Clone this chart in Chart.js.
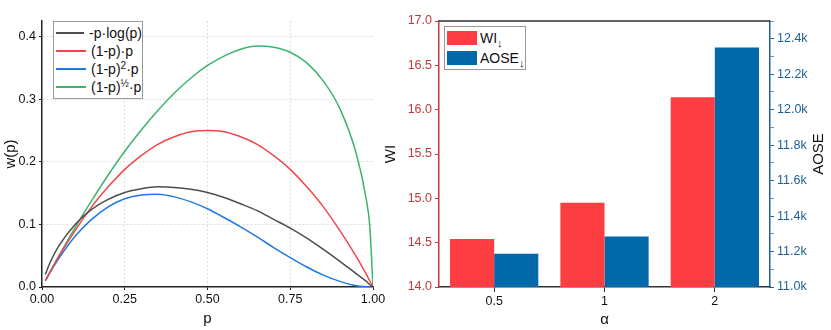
<!DOCTYPE html>
<html>
<head>
<meta charset="utf-8">
<script src="https://cdn.jsdelivr.net/npm/chart.js@4/dist/chart.umd.min.js"></script>
<style>
  body { margin: 0; background: #fff; font-family: "Liberation Sans", Arial, sans-serif; }
  #wrap { position: relative; width: 831px; height: 330px; }
  .box { position: absolute; top: 0; height: 330px; }
  .legend { position: absolute; background: #fff; border: 1px solid #999; font-size: 14px; color: #111; }
  .legend .row { display: flex; align-items: center; height: 18px; white-space: nowrap; }
  .legend sup { font-size: 10px; vertical-align: 5px; line-height: 0; }
  .legend sub { font-size: 11px; vertical-align: -4px; line-height: 0; }
</style>
</head>
<body>
<div id="wrap">
  <div class="box" style="left:0;width:400px"><canvas id="left-chart" width="400" height="330"></canvas></div>
  <div class="box" style="left:380px;width:451px"><canvas id="right-chart" width="451" height="330"></canvas></div>
  <div id="left-legend" class="legend" style="left:53px;top:21px;width:88px;padding:2px 0"></div>
  <div id="right-legend" class="legend" style="left:444px;top:26px;width:80px;padding:1px 0"></div>
</div>
<script>
// left chart: weight functions over p
const pValues = [0.01, 0.025, 0.05, 0.10, 0.15, 0.20, 0.25, 0.30, 0.35, 0.40, 0.45, 0.50, 0.55,
                 0.60, 0.65, 0.70, 0.75, 0.80, 0.85, 0.90, 0.95, 0.98, 0.99, 1.00];
const entropyW = [0.020, 0.040, 0.065, 0.100, 0.124, 0.140, 0.151, 0.157, 0.160, 0.159, 0.156, 0.151, 0.143,
                  0.133, 0.122, 0.108, 0.094, 0.078, 0.060, 0.041, 0.021, 0.009, 0.004, 0];
const linearW = [0.010, 0.024, 0.048, 0.090, 0.128, 0.160, 0.188, 0.210, 0.228, 0.240, 0.248, 0.250, 0.248,
                 0.240, 0.228, 0.210, 0.188, 0.160, 0.128, 0.090, 0.048, 0.020, 0.010, 0];
const squareW = [0.010, 0.024, 0.045, 0.081, 0.108, 0.128, 0.141, 0.147, 0.148, 0.144, 0.136, 0.125, 0.111,
                 0.096, 0.080, 0.063, 0.047, 0.032, 0.019, 0.009, 0.002, 0.0004, 0.0001, 0];
const sqrtW = [0.010, 0.025, 0.049, 0.095, 0.138, 0.179, 0.217, 0.251, 0.282, 0.310, 0.334, 0.354, 0.369,
               0.380, 0.385, 0.383, 0.375, 0.358, 0.329, 0.285, 0.212, 0.139, 0.099, 0];
const xTicks = [0, 0.25, 0.5, 0.75, 1.0];
const yTicks = [0, 0.1, 0.2, 0.3, 0.4];

// right chart: metrics per alpha
const alphaLabels = ['0.5', '1', '2'];
const wiValues = [14.54, 14.95, 16.14];
const aoseValues = [11188, 11285, 12351];

const fontFamily = "'Liberation Sans', Arial, sans-serif";
const textFont = { family: fontFamily, size: 12.5 };
const titleFont = { family: fontFamily, size: 15 };
const gridGrey = '#dddddd';

function pts(ys) {
    return pValues.map((p, i) => ({ x: p, y: ys[i] }));
}

const lineSeries = [
    { label: '-p·log(p)', html: '-p·log(p)', data: entropyW, color: '#4d4d4d' },
    { label: '(1-p)·p', html: '(1-p)·p', data: linearW, color: '#f0484a' },
    { label: '(1-p)^2·p', html: '(1-p)<sup>2</sup>·p', data: squareW, color: '#1f78e6' },
    { label: '(1-p)^½·p', html: '(1-p)<sup>½</sup>·p', data: sqrtW, color: '#3cb46e' }
];

new Chart(document.getElementById('left-chart').getContext('2d'), {
    type: 'line',
    data: {
        datasets: lineSeries.map(s => ({
            label: s.label,
            data: pts(s.data),
            borderColor: s.color,
            borderWidth: 1.5,
            pointRadius: 0,
            cubicInterpolationMode: 'monotone',
            fill: false
        }))
    },
    options: {
        responsive: false,
        animation: false,
        layout: { padding: { top: 21, right: 27, left: 0, bottom: 0 } },
        plugins: { legend: { display: false }, tooltip: { enabled: false } },
        scales: {
            x: {
                type: 'linear',
                min: 0, max: 1,
                afterBuildTicks: scale => { scale.ticks = xTicks.map(v => ({ value: v })); },
                afterFit: scale => { scale.height = 43; },
                ticks: { color: '#111', font: textFont, padding: 2, callback: v => v.toFixed(2) },
                grid: {
                    color: ctx => (ctx.tick && (ctx.tick.value === 0 || ctx.tick.value === 1)) ? 'rgba(0,0,0,0)' : gridGrey,
                    drawTicks: true, tickLength: 3, tickColor: '#222'
                },
                border: { color: '#222', width: 1.5, dash: [2, 2] },
                title: { display: true, text: 'p', color: '#111', font: titleFont, padding: 2 }
            },
            y: {
                min: 0, max: 0.425,
                afterBuildTicks: scale => { scale.ticks = yTicks.map(v => ({ value: v })); },
                afterFit: scale => { scale.width = 42; },
                ticks: { color: '#111', font: textFont, padding: 3, callback: v => v.toFixed(1) },
                grid: {
                    color: ctx => (ctx.tick && ctx.tick.value === 0) ? 'rgba(0,0,0,0)' : gridGrey,
                    drawTicks: true, tickLength: 3, tickColor: '#222'
                },
                border: { color: '#222', width: 1.5, dash: [2, 2] },
                title: { display: true, text: 'w(p)', color: '#111', font: titleFont, padding: 2 }
            }
        }
    }
});

const wiRed = '#fc3e42';
const aoseBlue = '#0168a9';
const axisRed = '#c23a3d';
const axisBlue = '#1c5f94';

// top frame line + right axis title read bottom-to-top like the left one
const frameAndTitle = {
    id: 'frameAndTitle',
    afterDraw(chart) {
        const { ctx, chartArea } = chart;
        ctx.save();
        ctx.strokeStyle = '#333';
        ctx.lineWidth = 1.5;
        ctx.beginPath();
        ctx.moveTo(chartArea.left, chartArea.top);
        ctx.lineTo(chartArea.right, chartArea.top);
        ctx.stroke();
        ctx.translate(chart.width - 12, (chartArea.top + chartArea.bottom) / 2);
        ctx.rotate(-Math.PI / 2);
        ctx.fillStyle = '#111';
        ctx.font = '15px ' + fontFamily;
        ctx.textAlign = 'center';
        ctx.textBaseline = 'middle';
        ctx.fillText('AOSE', 0, 0);
        ctx.restore();
    }
};

new Chart(document.getElementById('right-chart').getContext('2d'), {
    type: 'bar',
    data: {
        labels: alphaLabels,
        datasets: [{
            label: 'WI',
            data: wiValues,
            backgroundColor: wiRed,
            borderWidth: 0,
            yAxisID: 'y',
            categoryPercentage: 0.8,
            barPercentage: 1.0
        }, {
            label: 'AOSE',
            data: aoseValues,
            backgroundColor: aoseBlue,
            borderWidth: 0,
            yAxisID: 'y2',
            categoryPercentage: 0.8,
            barPercentage: 1.0
        }]
    },
    options: {
        responsive: false,
        animation: false,
        layout: { padding: { top: 21, right: 0, left: 0, bottom: 0 } },
        plugins: { legend: { display: false }, tooltip: { enabled: false } },
        scales: {
            x: {
                afterFit: scale => { scale.height = 43; },
                ticks: { color: '#111', font: textFont, padding: 2 },
                grid: { offset: false, drawOnChartArea: false, tickLength: 5, tickColor: '#333' },
                border: { color: '#333', width: 1.5 },
                title: { display: true, text: 'α', color: '#111', font: titleFont, padding: 1 }
            },
            y: {
                position: 'left',
                min: 14, max: 17,
                afterFit: scale => { scale.width = 59; },
                ticks: { stepSize: 0.5, color: axisRed, font: textFont, padding: 3, callback: v => v.toFixed(1) },
                grid: { drawOnChartArea: false, tickLength: 4, tickColor: axisRed },
                border: { color: axisRed, width: 1.5 },
                title: { display: true, text: 'WI', color: '#111', font: titleFont, padding: 2 }
            },
            y2: {
                position: 'right',
                min: 11000, max: 12500,
                afterFit: scale => { scale.width = 61; },
                ticks: {
                    stepSize: 100, autoSkip: false, color: axisBlue, font: textFont, padding: 3,
                    callback: v => (v % 200 === 0 && v < 12500) ? (v / 1000).toFixed(1) + 'k' : ''
                },
                grid: {
                    drawOnChartArea: false, tickLength: 4,
                    tickColor: ctx => (ctx.tick && ctx.tick.value % 200 !== 0) ? 'rgba(28,95,148,0.7)' : axisBlue
                },
                border: { color: axisBlue, width: 1.5 },
                title: { display: false }
            }
        }
    },
    plugins: [frameAndTitle]
});

// legends with super/subscripts as html text
function lineRow(color, html) {
    return '<div class="row"><span style="display:inline-block;width:30px;height:2px;background:' + color +
        ';margin:0 5px 0 2px"></span><span>' + html + '</span></div>';
}
document.getElementById('left-legend').innerHTML = lineSeries.map(s => lineRow(s.color, s.html)).join('');

function barRow(color, label) {
    return '<div class="row" style="height:20px"><span style="display:inline-block;width:30px;height:14px;background:' + color +
        ';margin:0 3px 0 2px"></span><span>' + label + '<sub>↓</sub></span></div>';
}
document.getElementById('right-legend').innerHTML = barRow(wiRed, 'WI') + barRow(aoseBlue, 'AOSE');
</script>
</body>
</html>
